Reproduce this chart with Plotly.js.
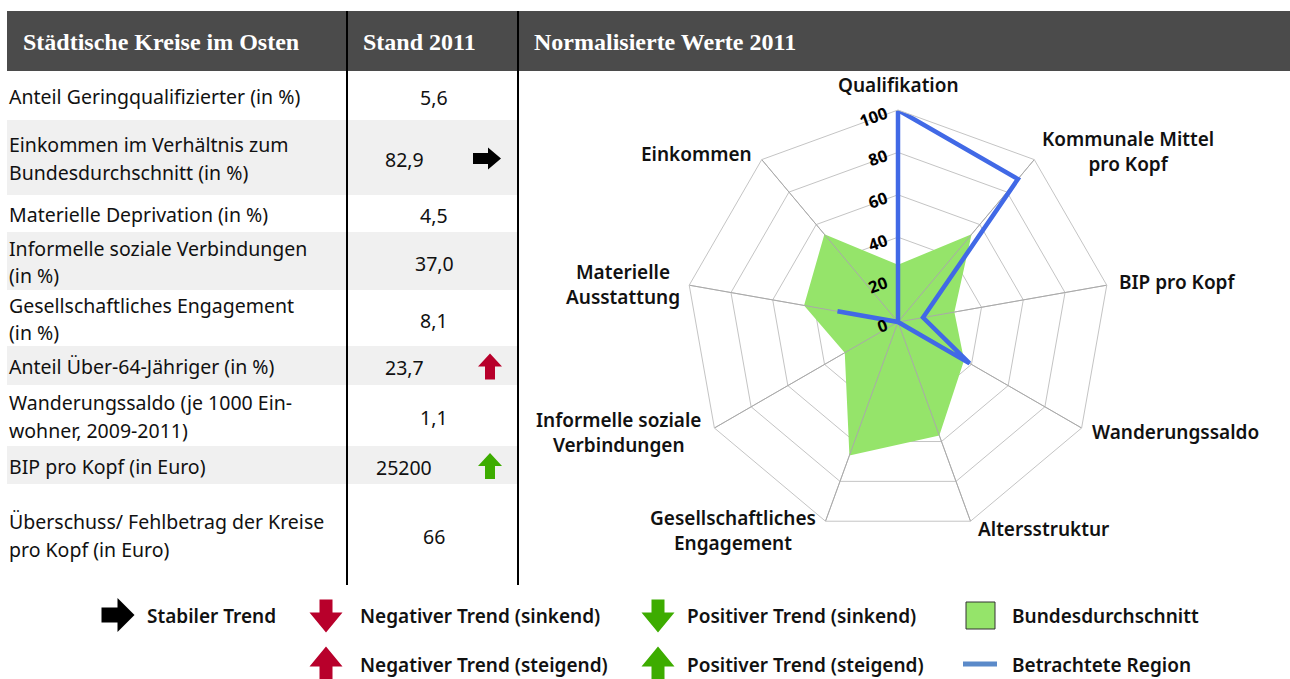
<!DOCTYPE html>
<html><head><meta charset="utf-8">
<script src="https://cdn.plot.ly/plotly-3.0.1.min.js"></script>
<style>html,body{margin:0;padding:0;background:#fff}#chart{width:1290px;height:679px}</style>
</head><body><div id="chart"></div>
<script>
// ---------------- data ----------------
const tableTitle = "Städtische Kreise im Osten";
const valueTitle = "Stand 2011";
const radarTitle = "Normalisierte Werte 2011";

const indicatorLabels = [
  "Anteil Geringqualifizierter (in %)",
  "Einkommen im Verhältnis zum\nBundesdurchschnitt (in %)",
  "Materielle Deprivation (in %)",
  "Informelle soziale Verbindungen\n(in %)",
  "Gesellschaftliches Engagement\n(in %)",
  "Anteil Über-64-Jähriger (in %)",
  "Wanderungssaldo (je 1000 Ein-\nwohner, 2009-2011)",
  "BIP pro Kopf (in Euro)",
  "Überschuss/ Fehlbetrag der Kreise\npro Kopf (in Euro)"
];
const indicatorValues = ["5,6", "82,9", "4,5", "37,0", "8,1", "23,7", "1,1", "25200", "66"];
const indicatorTrends = ["", "stabil", "", "", "", "negSteigend", "", "posSteigend", ""];

const radarCategories = [
  "Qualifikation", "Kommunale Mittel<br>pro Kopf", "BIP pro Kopf", "Wanderungssaldo",
  "Altersstruktur", "Gesellschaftliches<br>Engagement", "Informelle soziale<br>Verbindungen",
  "Materielle<br>Ausstattung", "Einkommen"
];
const bundesValues = [27, 54, 27, 36, 57, 67, 29, 45, 54];
const regionValues = [100, 88, 12, 39, 0, 0, 0, 29, 0];
const radialTicks = [0, 20, 40, 60, 80, 100];

const seriesNames = ["Bundesdurchschnitt", "Betrachtete Region"];
const trendKeys = ["stabil", "negSinkend", "negSteigend", "posSinkend", "posSteigend"];
const trendNames = ["Stabiler Trend", "Negativer Trend (sinkend)", "Negativer Trend (steigend)",
                    "Positiver Trend (sinkend)", "Positiver Trend (steigend)"];

// ---------------- style / layout ----------------
const W = 1290, H = 679;
const C = {
  header: "#4b4b4b", band: "#f0f0f0", grid: "#c4c4c4",
  green: "#95e46a", blue: "#4169e6", legendBlue: "#5b8ac9",
  red: "#b8002b", arrowGreen: "#3dac00", black: "#000000", text: "#111111"
};
const trendStyle = {
  stabil:      {color: C.black,      dir: 0},
  negSinkend:  {color: C.red,        dir: 90},
  negSteigend: {color: C.red,        dir: -90},
  posSinkend:  {color: C.arrowGreen, dir: 90},
  posSteigend: {color: C.arrowGreen, dir: -90}
};
const SANS = "Noto Sans, sans-serif";
const bodyFont = {family: SANS, size: 19.5, color: C.text};
const valueFont = {family: SANS, size: 19.5, color: C.text};
const legendFont = {family: SANS, size: 19, color: C.text, weight: 600};
const catFont = {family: SANS, size: 19, color: C.text, weight: 600};
const headFont = {family: "Liberation Serif, Times New Roman, serif", size: 24, color: "#ffffff", weight: 700};

const rowEdges = [71, 120, 195, 232, 290, 346, 385, 446, 484, 585];
const lineGap = 27.5;
const colLine1 = 347, colLine2 = 518, tableLeft = 7;

// radar geometry (pixels): centre and outer radius -> polar domain
const RC = {cx: 898, cy: 322, R: 212};
// label placement relative to each outer vertex: [dx, dy, xanchor]
const catLabelPlace = [
  [0, -25, "center"], [6, -8, "left"], [10, -3, "left"], [8, 4, "left"], [5, 8, "left"],
  [-7, 9, "right"], [-11, 4, "right"], [-7, -1, "right"], [-8, -6, "right"]
];

function arrowPath(cx, cy, dir, L, Wd, headL, stemW) {
  const a = dir * Math.PI / 180, c = Math.cos(a), s = Math.sin(a);
  const pts = [
    [-L / 2, -stemW / 2], [L / 2 - headL, -stemW / 2], [L / 2 - headL, -Wd / 2], [L / 2, 0],
    [L / 2 - headL, Wd / 2], [L / 2 - headL, stemW / 2], [-L / 2, stemW / 2]
  ];
  return pts.map((p, i) => (i ? "L" : "M") + (cx + p[0] * c - p[1] * s).toFixed(2) + "," + (cy + p[0] * s + p[1] * c).toFixed(2)).join(" ") + " Z";
}

const shapes = [];
const annotations = [];

// header bar
shapes.push({type: "rect", xref: "x", yref: "y", x0: tableLeft, x1: W, y0: 11, y1: 71, fillcolor: C.header, line: {width: 0}, layer: "below"});
annotations.push({xref: "x", yref: "y", x: 21, y: 42, text: tableTitle, showarrow: false, xanchor: "left", yanchor: "middle", font: headFont});
annotations.push({xref: "x", yref: "y", x: 361, y: 42, text: valueTitle, showarrow: false, xanchor: "left", yanchor: "middle", font: headFont});
annotations.push({xref: "x", yref: "y", x: 532, y: 42, text: radarTitle, showarrow: false, xanchor: "left", yanchor: "middle", font: headFont});

// table rows
indicatorLabels.forEach((lab, i) => {
  const top = rowEdges[i], bot = rowEdges[i + 1];
  if (i % 2 === 1) {
    shapes.push({type: "rect", xref: "x", yref: "y", x0: tableLeft, x1: colLine2, y0: top, y1: bot, fillcolor: C.band, line: {width: 0}, layer: "below"});
  }
  const cy = (top + bot) / 2 + 1;
  const lines = lab.split("\n");
  lines.forEach((ln, j) => {
    annotations.push({xref: "x", yref: "y", x: tableLeft, y: cy + (j - (lines.length - 1) / 2) * lineGap,
      text: ln, showarrow: false, xanchor: "left", yanchor: "middle", font: bodyFont});
  });
  const tr = indicatorTrends[i];
  annotations.push({xref: "x", yref: "y", x: tr ? 404 : 434, y: cy + 1, text: indicatorValues[i],
    showarrow: false, xanchor: "center", yanchor: "middle", font: valueFont});
  if (tr) {
    const st = trendStyle[tr];
    const path = st.dir === 0 ? arrowPath(487, cy, 0, 28, 22, 13, 11) : arrowPath(490, cy, st.dir, 26, 24, 13, 10);
    shapes.push({type: "path", xref: "x", yref: "y", path: path, fillcolor: st.color, line: {width: 0}});
  }
});

// column lines
[colLine1, colLine2].forEach(xv => {
  shapes.push({type: "line", xref: "x", yref: "y", x0: xv, x1: xv, y0: 11, y1: 585, line: {color: "#000", width: 2}});
});

// legend
const legendPos = {
  stabil: [118, 615, 145, 616], negSinkend: [326, 616, 358, 616], negSteigend: [326, 663, 358, 665],
  posSinkend: [658, 616, 685, 616], posSteigend: [658, 663, 685, 665]
};
trendKeys.forEach((k, i) => {
  const p = legendPos[k], st = trendStyle[k];
  const path = st.dir === 0 ? arrowPath(p[0], p[1], 0, 33, 34, 17, 15) : arrowPath(p[0], p[1], st.dir, 33, 33, 20, 13);
  shapes.push({type: "path", xref: "x", yref: "y", path: path, fillcolor: st.color, line: {width: 0}});
  annotations.push({xref: "x", yref: "y", x: p[2], y: p[3], text: trendNames[i], showarrow: false,
    xanchor: "left", yanchor: "middle", font: legendFont});
});
shapes.push({type: "rect", xref: "x", yref: "y", x0: 966, x1: 995, y0: 602, y1: 629, fillcolor: C.green, line: {color: "#333", width: 1}});
shapes.push({type: "line", xref: "x", yref: "y", x0: 963, x1: 997, y0: 664, y1: 664, line: {color: C.legendBlue, width: 5}});
annotations.push({xref: "x", yref: "y", x: 1010, y: 616, text: seriesNames[0], showarrow: false, xanchor: "left", yanchor: "middle", font: legendFont});
annotations.push({xref: "x", yref: "y", x: 1010, y: 665, text: seriesNames[1], showarrow: false, xanchor: "left", yanchor: "middle", font: legendFont});

// radar category labels, placed at the outer vertices of the polar grid
radarCategories.forEach((cat, i) => {
  const ang = i * 360 / radarCategories.length * Math.PI / 180;
  const vx = RC.cx + RC.R * Math.sin(ang), vy = RC.cy - RC.R * Math.cos(ang);
  const pl = catLabelPlace[i];
  annotations.push({xref: "x", yref: "y", x: vx + pl[0], y: vy + pl[1], text: cat, showarrow: false,
    xanchor: pl[2], yanchor: "middle", align: "center", font: catFont});
});

// radar traces
const closeIt = a => a.concat([a[0]]);
const spokesR = [], spokesT = [];
radarCategories.forEach(c => { spokesR.push(0, 100, null); spokesT.push(c, c, c); });

const traces = [
  {type: "scatter", x: [0, W], y: [0, H], mode: "markers", marker: {opacity: 0}, hoverinfo: "skip", showlegend: false},
  {type: "scatterpolar", name: seriesNames[0], r: closeIt(bundesValues), theta: closeIt(radarCategories),
    mode: "lines", fill: "toself", fillcolor: C.green, line: {width: 0, color: C.green}, hoverinfo: "skip"},
  {type: "scatterpolar", name: "grid", r: spokesR, theta: spokesT, mode: "lines",
    line: {color: "#a9a9a9", width: 1}, hoverinfo: "skip", connectgaps: false},
  {type: "scatterpolar", name: seriesNames[1], r: closeIt(regionValues), theta: closeIt(radarCategories),
    mode: "lines", line: {color: C.blue, width: 4.5}, hoverinfo: "skip"}
];

const layout = {
  width: W, height: H, margin: {l: 0, r: 0, t: 0, b: 0, pad: 0},
  paper_bgcolor: "#ffffff", plot_bgcolor: "rgba(0,0,0,0)", showlegend: false,
  xaxis: {range: [0, W], visible: false, fixedrange: true, domain: [0, 1]},
  yaxis: {range: [H, 0], visible: false, fixedrange: true, domain: [0, 1]},
  polar: {
    domain: {x: [(RC.cx - RC.R) / W, (RC.cx + RC.R) / W], y: [1 - (RC.cy + RC.R) / H, 1 - (RC.cy - RC.R) / H]},
    gridshape: "linear", bgcolor: "rgba(0,0,0,0)",
    radialaxis: {range: [0, 100], tickvals: radialTicks, ticktext: radialTicks.map(String),
      showline: false, gridcolor: C.grid, gridwidth: 1, angle: 90, side: "counterclockwise",
      ticks: "", tickangle: 70, tickfont: {family: SANS, size: 16.5, color: "#000", weight: 700}},
    angularaxis: {type: "category", categoryarray: radarCategories, direction: "clockwise", rotation: 90,
      gridcolor: C.grid, linecolor: C.grid, showline: true, ticks: "", showticklabels: false}
  },
  shapes: shapes, annotations: annotations
};

Plotly.newPlot("chart", traces, layout, {staticPlot: true, displayModeBar: false});
</script></body></html>
